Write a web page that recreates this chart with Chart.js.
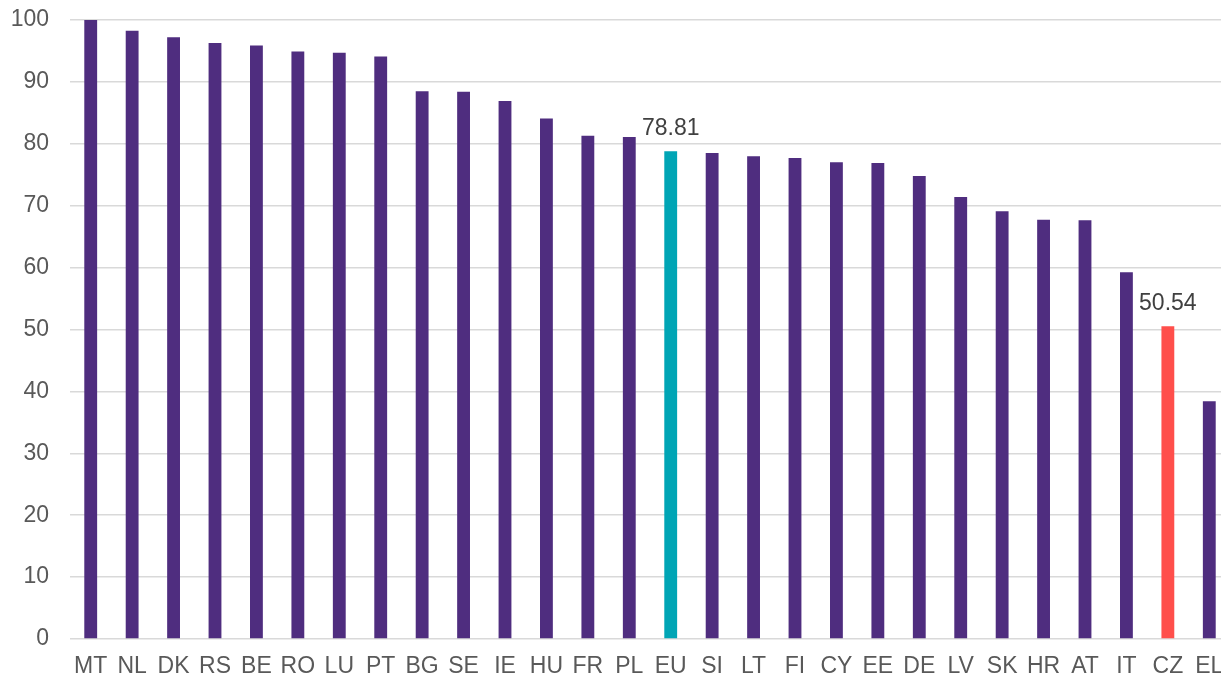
<!DOCTYPE html>
<html>
<head>
<meta charset="utf-8">
<script src="https://cdn.jsdelivr.net/npm/chart.js@4"></script>
<style>
  html, body { margin: 0; padding: 0; background: #fff; overflow: hidden; }
</style>
</head>
<body>
<canvas id="bar_chart" width="1230" height="679"></canvas>
<script>
// data
var countries = ['MT','NL','DK','RS','BE','RO','LU','PT','BG','SE','IE','HU','FR','PL','EU',
                 'SI','LT','FI','CY','EE','DE','LV','SK','HR','AT','IT','CZ','EL'];
var scores = [100, 98.25, 97.2, 96.3, 95.9, 94.9, 94.7, 94.1, 88.5, 88.4, 86.9, 84.1, 81.3, 81.1, 78.81,
              78.5, 78.0, 77.7, 77.0, 76.9, 74.8, 71.4, 69.1, 67.75, 67.65, 59.25, 50.54, 38.4];
var yTicks = [0, 10, 20, 30, 40, 50, 60, 70, 80, 90, 100];
var labelled = ['EU', 'CZ']; // only these get a value on top

var barColors = countries.map(function (c) {
  if (c === 'EU') return '#00A5B5';
  if (c === 'CZ') return '#FF4F4B';
  return '#4F2D7F';
});

// value labels above EU and CZ
var valueLabels = {
  id: 'valueLabels',
  afterDatasetsDraw: function (chart) {
    var ctx = chart.ctx;
    var meta = chart.getDatasetMeta(0);
    ctx.save();
    ctx.font = '23px "Liberation Sans", Arial, sans-serif';
    ctx.fillStyle = '#404040';
    ctx.textAlign = 'center';
    ctx.textBaseline = 'alphabetic';
    meta.data.forEach(function (bar, i) {
      if (labelled.indexOf(countries[i]) < 0) return;
      ctx.fillText(scores[i].toFixed(2), bar.x, bar.y - 16);
    });
    ctx.restore();
  }
};

var ctx = document.getElementById('bar_chart');
new Chart(ctx, {
  type: 'bar',
  data: {
    labels: countries,
    datasets: [{
      data: scores,
      backgroundColor: barColors,
      barPercentage: 0.31,
      categoryPercentage: 1
    }]
  },
  options: {
    responsive: false,
    animation: false,
    devicePixelRatio: 1,
    layout: { padding: { top: 20, right: 0, left: 0, bottom: 0 } },
    plugins: {
      legend: { display: false },
      tooltip: { enabled: false }
    },
    scales: {
      x: {
        grid: { display: false, drawTicks: false },
        border: { display: false },
        ticks: {
          color: '#595959',
          padding: 14,
          maxRotation: 0,
          autoSkip: false,
          font: { family: '"Liberation Sans", Arial, sans-serif', size: 23 }
        },
        afterFit: function (scale) {
          scale.height = 40;
          scale.paddingLeft = 0;
          scale.paddingRight = 0;
        }
      },
      y: {
        min: 0,
        max: 100,
        afterBuildTicks: function (scale) {
          scale.ticks = yTicks.map(function (v) { return { value: v }; });
        },
        grid: { color: '#d9d9d9', lineWidth: 1.5, drawTicks: false },
        border: { display: false },
        ticks: {
          color: '#595959',
          padding: 21,
          font: { family: '"Liberation Sans", Arial, sans-serif', size: 23 }
        },
        afterFit: function (scale) {
          scale.width = 70;
          scale.paddingTop = 0;
          scale.paddingBottom = 0;
        }
      }
    }
  },
  plugins: [valueLabels]
});
</script>
</body>
</html>
